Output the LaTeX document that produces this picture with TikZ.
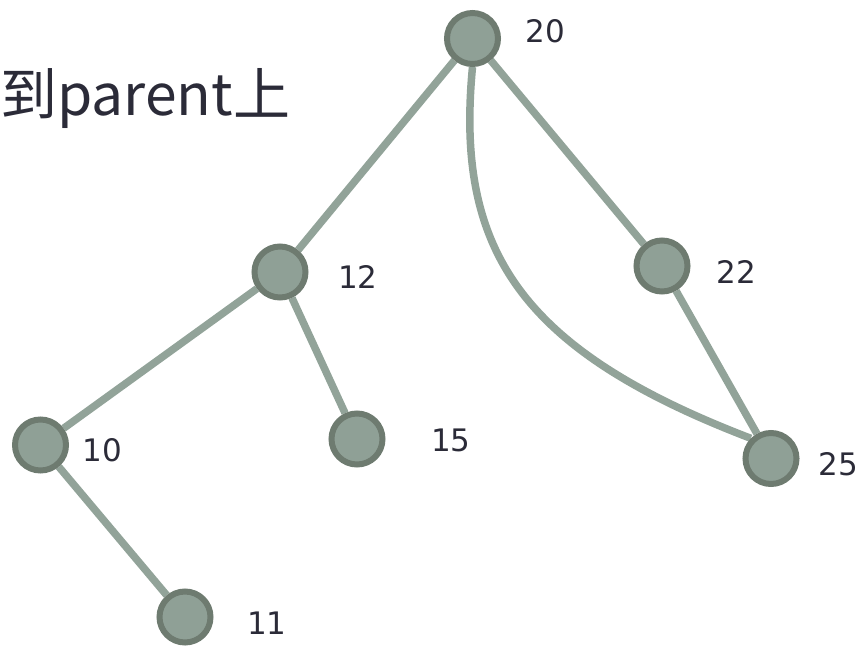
\documentclass[tikz,border=0pt]{standalone}
\usepackage{xcolor}
\usepackage{fontspec}
\usepackage{tikz}
\usetikzlibrary{backgrounds}
\newfontfamily\cjk{Noto Sans CJK SC}
\newfontfamily\numfont{DejaVu Sans}
\definecolor{nodefill}{HTML}{8FA096}
\definecolor{nodeline}{HTML}{6E7B70}
\definecolor{edgecol}{HTML}{92A399}
\definecolor{textcol}{HTML}{2B2B38}

\begin{document}
\begin{tikzpicture}[
    x=1pt, y=1pt,
    vertex/.style={circle, draw=nodeline, fill=nodefill, line width=6pt, minimum size=51pt, inner sep=0pt},
    key/.style={text=textcol, font=\numfont\fontsize{31}{31}\selectfont, inner sep=0pt},
    edge/.style={draw=edgecol, line width=7.5pt}
]
\useasboundingbox (0,0) rectangle (864,-645);

\node[text=textcol, font=\cjk\fontsize{57}{57}\selectfont, anchor=base west, inner sep=0pt] (title) at (0,-115) {到parent上};

\node[vertex] (n20) at (472.5,-38.5) {};
\node[vertex] (n12) at (280,-272) {};
\node[vertex] (n22) at (662,-266) {};
\node[vertex] (n10) at (40.5,-445) {};
\node[vertex] (n15) at (357,-439) {};
\node[vertex] (n25) at (771,-458.5) {};
\node[vertex] (n11) at (185,-617) {};

\node[key] (k20) at (545.5,-31.5) {20};
\node[key] (k12) at (358,-277) {12};
\node[key] (k22) at (736,-272) {22};
\node[key] (k10) at (102.5,-450) {10};
\node[key] (k15) at (451,-440) {15};
\node[key] (k25) at (838,-464) {25};
\node[key] (k11) at (267,-623) {11};

\begin{scope}[on background layer]
    \draw[edge] (n20) -- (n12);
    \draw[edge] (n20) -- (n22);
    \draw[edge] (n12) -- (n10);
    \draw[edge] (n12) -- (n15);
    \draw[edge] (n10) -- (n11);
    \draw[edge] (n22) -- (n25);
    \draw[edge] (n20.south) .. controls (455,-250) and (520,-350) .. (n25.north west);
\end{scope}

\end{tikzpicture}
\end{document}
